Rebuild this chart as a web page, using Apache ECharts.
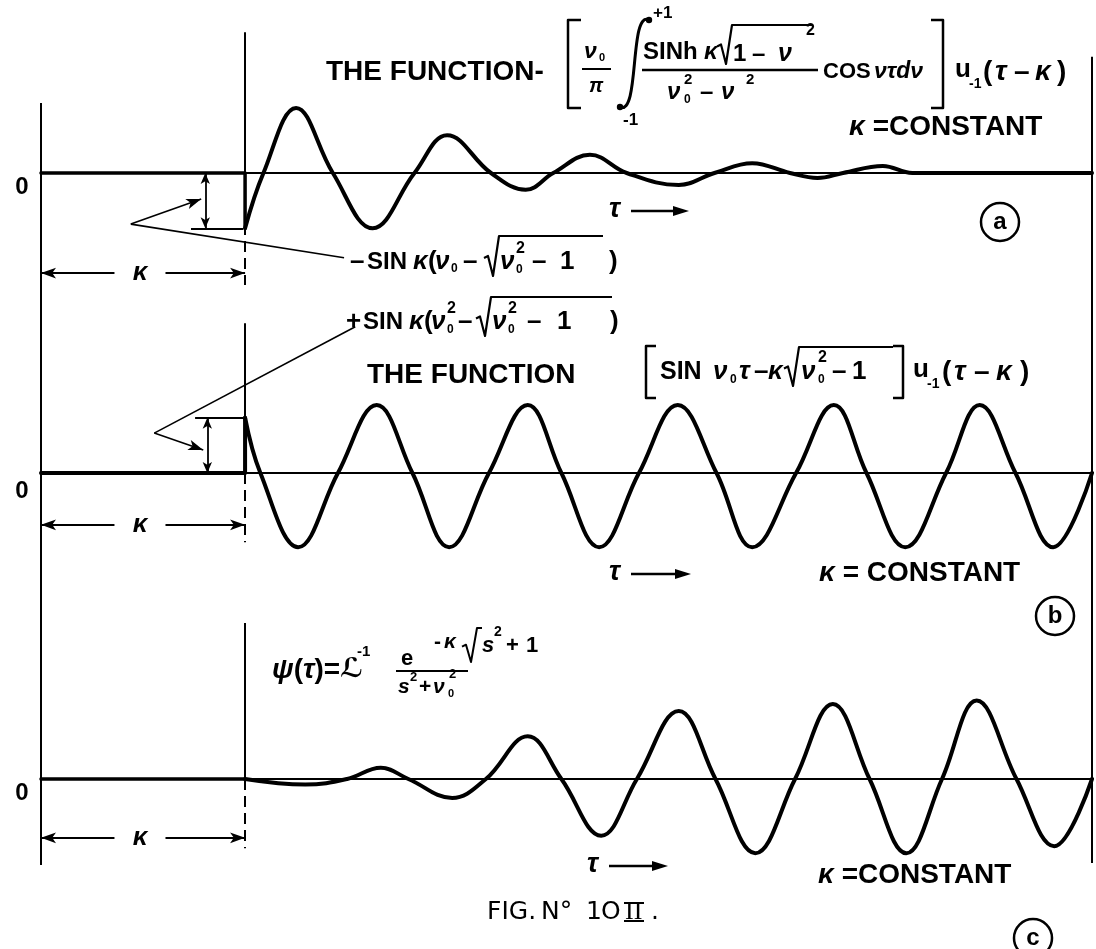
<!DOCTYPE html>
<html>
<head>
<meta charset="utf-8">
<script src="https://cdn.jsdelivr.net/npm/echarts@6/dist/echarts.min.js"></script>
<style>
  html, body { margin: 0; padding: 0; background: #fff; }
  #chart { width: 1096px; height: 949px; }
</style>
</head>
<body>
<div id="chart"></div>
<script>
// τ axis, in units where the delay κ sits at 2
const tauMin = 0, tauMax = 10.3, kappa = 2.0;
const yMin = -2.4, yMax = 2.4;

// (a) integral term, zero until τ = κ, then a decaying ripple   [τ, value]
const aStep = [[0, 0], [2.0, 0], [2.0, -0.79]];
const aWave = [[2.0, -0.79], [2.18, 0], [2.5, 0.93], [2.86, 0], [3.25, -0.79], [3.66, 0],
  [3.98, 0.54], [4.41, 0], [4.75, -0.24], [5.02, 0], [5.38, 0.26], [5.74, 0], [6.25, -0.17],
  [6.6, 0], [6.97, 0.14], [7.34, 0], [7.61, -0.07], [7.86, 0], [8.25, 0.10], [8.54, 0], [10.3, 0]];

// (b) delayed sine of constant amplitude
const bStep = [[0, 0], [2.0, 0], [2.0, 0.79]];
const bWave = [[2.0, 0.79], [2.15, 0], [2.52, -1.06], [2.91, 0], [3.29, 0.97], [3.64, 0],
  [4.0, -1.06], [4.39, 0], [4.77, 0.97], [5.10, 0], [5.47, -1.06], [5.86, 0], [6.24, 0.97],
  [6.62, 0], [6.97, -1.06], [7.40, 0], [7.77, 0.97], [8.09, 0], [8.47, -1.06], [8.87, 0],
  [9.20, 0.97], [9.55, 0], [9.92, -1.06], [10.3, 0]];

// (c) ψ(τ), the sum of (a) and (b): builds up to the steady sine
const cFlat = [[0, 0], [2.0, 0]];
const cWave = [[2.0, 0], [2.59, -0.08], [3.0, 0], [3.33, 0.16], [3.6, 0], [4.03, -0.27],
  [4.36, 0], [4.77, 0.61], [5.10, 0], [5.49, -0.81], [5.84, 0], [6.25, 0.97], [6.61, 0],
  [7.0, -1.06], [7.39, 0], [7.76, 1.07], [8.12, 0], [8.48, -1.06], [8.83, 0], [9.17, 1.12],
  [9.56, 0], [9.93, -0.96], [10.3, 0]];

const zeroLabel = '0';
const kappaLabel = 'κ';
const panelTags = ['a', 'b', 'c'];

// ---------- helpers ----------
const FONT = '"Liberation Sans", "DejaVu Sans", Arial, sans-serif';
const ctx = document.createElement('canvas').getContext('2d');
const gfx = [];
function fontOf(s, o) {
  return (o.it ? 'italic ' : '') + (o.w || 'bold') + ' ' + s + 'px ' + (o.f || FONT);
}
function txt(x, y, t, s, o) {
  o = o || {};
  const font = fontOf(s, o);
  const align = o.align || 'left';
  gfx.push({
    type: 'text', x: x, y: y, silent: true, z: 10,
    style: { text: t, font: font, fill: '#000', align: align, textAlign: align,
             verticalAlign: 'middle', textVerticalAlign: 'middle' }
  });
  ctx.font = font;
  return x + ctx.measureText(t).width;
}
function run(x, y, parts) {
  let cx = x;
  parts.forEach(p => {
    cx += p.dx || 0;
    const end = txt(cx, y + (p.dy || 0), p.t, p.s, p);
    if (!p.keep) cx = end;
  });
  return cx;
}
function poly(pts, w) {
  gfx.push({ type: 'polyline', silent: true, z: 10, shape: { points: pts },
    style: { stroke: '#000', lineWidth: w || 2, fill: null, lineJoin: 'round' } });
}
function radical(x, top, bot, xEnd, w) {
  const mid = bot - (bot - top) * 0.45;
  poly([[x, mid], [x + 4, mid - 2], [x + 9, bot], [x + 15, top], [xEnd, top]], w || 2);
}
function arrowRight(x0, x1, y) {
  poly([[x0, y], [x1 - 8, y]], 2.5);
  gfx.push({ type: 'polygon', silent: true, z: 10,
    shape: { points: [[x1 - 16, y - 5], [x1, y], [x1 - 16, y + 5]] }, style: { fill: '#000' } });
}
function circled(cx, cy, ch) {
  gfx.push({ type: 'circle', silent: true, z: 10, shape: { cx: cx, cy: cy, r: 19 },
    style: { fill: null, stroke: '#000', lineWidth: 2.5 } });
  txt(cx, cy, ch, 24, { align: 'center' });
}
const IT = { it: true };

// ---------- text: panel (a) ----------
txt(326, 72, 'THE FUNCTION-', 28);
poly([[581, 20], [568, 20], [568, 108], [581, 108]], 2.5);
txt(584, 52, 'ν', 23, IT); txt(599, 58, '0', 11);
poly([[582, 69], [611, 69]], 2);
txt(589, 86, 'π', 20, IT);
// integral sign with dotted ends
gfx.push({ type: 'bezierCurve', silent: true, z: 10,
  shape: { x1: 620, y1: 107, cpx1: 640, cpy1: 116, cpx2: 629, cpy2: 10, x2: 649, y2: 20 },
  style: { stroke: '#000', lineWidth: 3, fill: null } });
gfx.push({ type: 'circle', silent: true, z: 10, shape: { cx: 649, cy: 20, r: 3.2 }, style: { fill: '#000' } });
gfx.push({ type: 'circle', silent: true, z: 10, shape: { cx: 620, cy: 107, r: 3.2 }, style: { fill: '#000' } });
txt(653, 13, '+1', 17);
txt(623, 120, '-1', 17);
txt(643, 52, 'SINh', 24);
txt(704, 52, 'κ', 24, IT);
radical(717, 25, 64, 812, 2.2);
txt(733, 54, '1', 24); txt(752, 54, '–', 24); txt(778, 54, 'ν', 25, IT); txt(806, 31, '2', 16);
poly([[642, 70], [818, 70]], 2.5);
txt(667, 92, 'ν', 24, IT); txt(684, 100, '0', 12); txt(684, 80, '2', 15);
txt(700, 92, '–', 24); txt(721, 92, 'ν', 24, IT); txt(746, 80, '2', 15);
txt(823, 72, 'COS', 22);
txt(874, 72, 'ντdν', 23, IT);
poly([[931, 20], [943, 20], [943, 108], [931, 108]], 2.5);
txt(955, 70, 'u', 26); txt(969, 84, '-1', 14);
txt(983, 72, '(', 28); txt(995, 72, 'τ', 28, IT); txt(1014, 72, '–', 28);
txt(1035, 72, 'κ', 28, IT); txt(1057, 72, ')', 28);
run(849, 127, [{ t: 'κ', s: 28, it: true }, { t: ' =CONSTANT', s: 28 }]);

// amplitude note for (a)
txt(350, 262, '–', 26);
txt(367, 262, 'SIN', 24);
txt(413, 262, 'κ', 26, IT);
txt(428, 262, '(', 26);
txt(435, 262, 'ν', 26, IT); txt(451, 269, '0', 12);
txt(463, 262, '–', 26);
radical(484, 236, 276, 603, 2.2);
txt(500, 262, 'ν', 26, IT); txt(516, 270, '0', 12); txt(516, 249, '2', 16);
txt(532, 262, '–', 26); txt(560, 262, '1', 26);
txt(609, 262, ')', 26);

// ---------- text: panel (b) ----------
txt(346, 322, '+', 26);
txt(363, 322, 'SIN', 24);
txt(409, 322, 'κ', 26, IT);
txt(424, 322, '(', 26);
txt(431, 322, 'ν', 26, IT); txt(447, 330, '0', 12); txt(447, 309, '2', 16);
txt(458, 322, '–', 26);
radical(476, 297, 336, 612, 2.2);
txt(492, 322, 'ν', 26, IT); txt(508, 330, '0', 12); txt(508, 309, '2', 16);
txt(527, 322, '–', 26); txt(557, 322, '1', 26);
txt(610, 322, ')', 26);

txt(367, 375, 'THE FUNCTION', 28);
poly([[656, 346], [646, 346], [646, 398], [656, 398]], 2.5);
txt(660, 372, 'SIN', 25);
txt(713, 372, 'ν', 26, IT); txt(730, 380, '0', 12);
txt(739, 372, 'τ', 26, IT); txt(754, 372, '–', 26); txt(768, 372, 'κ', 26, IT);
radical(784, 347, 386, 893, 2.2);
txt(801, 372, 'ν', 26, IT); txt(818, 380, '0', 12); txt(818, 358, '2', 16);
txt(832, 372, '–', 26); txt(852, 372, '1', 26);
poly([[893, 346], [903, 346], [903, 398], [893, 398]], 2.5);
txt(913, 370, 'u', 26); txt(927, 384, '-1', 14);
txt(942, 372, '(', 28); txt(954, 372, 'τ', 28, IT); txt(974, 372, '–', 28);
txt(996, 372, 'κ', 28, IT); txt(1020, 372, ')', 28);
run(819, 573, [{ t: 'κ', s: 28, it: true }, { t: ' = CONSTANT', s: 28 }]);

// ---------- text: panel (c) ----------
run(272, 670, [{ t: 'ψ', s: 28, it: true }, { t: '(', s: 28 }, { t: 'τ', s: 28, it: true },
  { t: ')=', s: 28 }, { t: 'ℒ', s: 27, f: '"DejaVu Sans", sans-serif' }]);
txt(357, 652, '-1', 15);
poly([[396, 671], [468, 671]], 2);
txt(401, 659, 'e', 22);
txt(434, 642, '-', 21); txt(444, 642, 'κ', 21, IT);
radical(462, 628, 662, 482, 2);
txt(482, 646, 's', 22, IT); txt(494, 632, '2', 14);
txt(506, 646, '+', 22); txt(526, 646, '1', 22);
txt(398, 687, 's', 21, IT); txt(410, 677, '2', 13);
txt(419, 687, '+', 21); txt(433, 687, 'ν', 21, IT); txt(448, 694, '0', 11); txt(449, 674, '2', 13);
run(818, 875, [{ t: 'κ', s: 28, it: true }, { t: ' =CONSTANT', s: 28 }]);

// ---------- shared labels ----------
[187, 491, 793].forEach(y => txt(22, y, zeroLabel, 24, { align: 'center' }));
[273, 525, 838].forEach(y => txt(140, y, kappaLabel, 26, { it: true, align: 'center' }));
txt(609, 210, 'τ', 27, IT); arrowRight(631, 689, 211);
txt(609, 573, 'τ', 27, IT); arrowRight(631, 691, 574);
txt(587, 865, 'τ', 27, IT); arrowRight(609, 668, 866);
circled(1000, 222, panelTags[0]);
circled(1055, 616, panelTags[1]);
circled(1033, 938, panelTags[2]);
const FIG = { w: 'normal', f: '"DejaVu Sans", sans-serif' };
txt(487, 912, 'FIG.', 25, FIG);
txt(541, 912, 'N°', 25, FIG);
txt(586, 912, '1', 25, FIG);
txt(601, 912, 'O', 25, FIG);
txt(625, 912, 'II', 26, { w: 'normal', f: '"Liberation Serif", serif' });
poly([[624, 903], [644, 903]], 2);
poly([[624, 921], [644, 921]], 2);
txt(651, 912, '.', 25, FIG);

// ---------- chart ----------
const tops = [5, 305, 611];
const grids = tops.map(top => ({ left: 41, width: 1051, top: top, height: 336 }));
const xAxes = tops.map((t, i) => ({
  type: 'value', gridIndex: i, min: tauMin, max: tauMax,
  axisLine: { show: true, onZero: true, lineStyle: { color: '#000', width: 2 } },
  axisTick: { show: false }, axisLabel: { show: false }, splitLine: { show: false }
}));
const yAxes = tops.map((t, i) => ({
  type: 'value', gridIndex: i, min: yMin, max: yMax, show: false, splitLine: { show: false }
}));

const ARW = [8, 15];
function seg(p0, p1, o) {
  o = o || {};
  const ls = { color: '#000', width: o.w || 2, type: o.dash ? [11, 6] : 'solid' };
  return [
    { coord: p0, symbol: o.s0 || 'none', symbolSize: o.ss || ARW, lineStyle: ls },
    { coord: p1, symbol: o.s1 || 'none', symbolSize: o.ss || ARW, lineStyle: ls }
  ];
}
function dims(y) {
  return [seg([0.72, y], [0, y], { s1: 'arrow' }), seg([1.22, y], [kappa, y], { s1: 'arrow' })];
}
const marks = [
  [
    seg([0, 1.0], [0, yMin]), seg([tauMax, 1.66], [tauMax, yMin]),
    seg([kappa, 2.01], [kappa, 0]), seg([kappa, 0], [kappa, -1.6], { dash: true }),
    ...dims(-1.43),
    seg([1.61, 0], [1.61, -0.79], { s0: 'arrow', s1: 'arrow', ss: [7, 11], w: 1.8 }),
    seg([1.47, -0.79], [1.98, -0.79], { w: 1.8 }),
    seg([0.88, -0.73], [1.57, -0.37], { s1: 'arrow', w: 1.6 }),
    seg([0.88, -0.73], [2.97, -1.21], { w: 1.6 })
  ],
  [
    seg([0, yMax], [0, yMin]), seg([tauMax, yMax], [tauMax, yMin]),
    seg([kappa, 2.14], [kappa, 0]), seg([kappa, 0], [kappa, -0.99], { dash: true }),
    ...dims(-0.74),
    seg([1.63, 0], [1.63, 0.79], { s0: 'arrow', s1: 'arrow', ss: [7, 11], w: 1.8 }),
    seg([1.51, 0.79], [1.98, 0.79], { w: 1.8 }),
    seg([1.11, 0.57], [1.59, 0.33], { s1: 'arrow', w: 1.6 }),
    seg([1.11, 0.57], [3.08, 2.09], { w: 1.6 })
  ],
  [
    seg([0, yMax], [0, -1.23]), seg([tauMax, yMax], [tauMax, -1.2]),
    seg([kappa, 2.23], [kappa, 0]), seg([kappa, 0], [kappa, -0.99], { dash: true }),
    ...dims(-0.84)
  ]
];

function curve(data, i, smooth, w, withMarks) {
  const s = {
    type: 'line', xAxisIndex: i, yAxisIndex: i, data: data, smooth: smooth,
    symbol: 'none', showSymbol: false, silent: true, animation: false, clip: false, z: 3,
    lineStyle: { color: '#000', width: w, cap: 'round', join: 'round' }
  };
  if (withMarks) {
    s.markLine = { silent: true, animation: false, symbol: ['none', 'none'],
      label: { show: false }, emphasis: { disabled: true }, data: marks[i] };
  }
  return s;
}

const series = [
  curve(aStep, 0, false, 3.5, true), curve(aWave, 0, 0.4, 4),
  curve(bStep, 1, false, 4, true), curve(bWave, 1, 0.4, 4),
  curve(cFlat, 2, false, 3.5, true), curve(cWave, 2, 0.4, 4)
];

const chart = echarts.init(document.getElementById('chart'));
chart.setOption({
  backgroundColor: '#fff',
  animation: false,
  grid: grids,
  xAxis: xAxes,
  yAxis: yAxes,
  series: series,
  graphic: { elements: gfx }
});
</script>
</body>
</html>
